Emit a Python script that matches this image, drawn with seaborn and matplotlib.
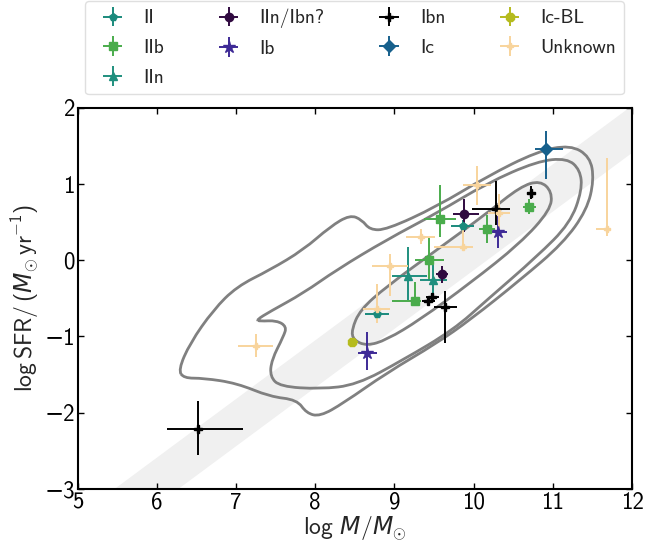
import numpy as np
import matplotlib
matplotlib.use("Agg")
import matplotlib.pyplot as plt
from matplotlib.path import Path
from matplotlib.patches import PathPatch
import seaborn as sns

# ---- host-galaxy measurements (log M, log SFR, asymmetric errors) ----
ii_m = [8.78, 9.86]
ii_sfr = [-0.707, 0.456]
ii_xerr = [[0.15, 0.15], [0.15, 0.15]]
ii_yerr = [[0.06, 0.07], [0.06, 0.07]]

iib_m = [9.26, 9.44, 9.58, 10.17, 10.705]
iib_sfr = [-0.528, 0.005, 0.54, 0.416, 0.705]
iib_xerr = [[0.29, 0.18, 0.20, 0.10, 0.08], [0.08, 0.18, 0.20, 0.10, 0.08]]
iib_yerr = [[0.06, 0.28, 0.24, 0.19, 0.10], [0.24, 0.29, 0.45, 0.18, 0.10]]

iin_m = [9.17, 9.49]
iin_sfr = [-0.205, -0.257]
iin_xerr = [[0.20, 0.17], [0.24, 0.17]]
iin_yerr = [[0.31, 0.22], [0.38, 0.20]]

iinibn_m = [9.88, 9.60]
iinibn_sfr = [0.605, -0.183]
iinibn_xerr = [[0.14, 0.08], [0.19, 0.08]]
iinibn_yerr = [[0.24, 0.11], [0.20, 0.11]]

ib_m = [8.66, 10.305]
ib_sfr = [-1.22, 0.377]
ib_xerr = [[0.12, 0.12], [0.12, 0.12]]
ib_yerr = [[0.22, 0.22], [0.28, 0.20]]

ibn_m = [6.525, 9.43, 9.48, 9.645, 10.28, 10.72]
ibn_sfr = [-2.213, -0.533, -0.476, -0.607, 0.675, 0.889]
ibn_xerr = [[0.39, 0.08, 0.08, 0.145, 0.30, 0.05], [0.56, 0.08, 0.08, 0.145, 0.18, 0.05]]
ibn_yerr = [[0.34, 0.05, 0.05, 0.48, 0.21, 0.08], [0.36, 0.05, 0.05, 0.21, 0.36, 0.08]]

ic_m = [10.91]
ic_sfr = [1.462]
ic_xerr = [[0.14], [0.22]]
ic_yerr = [[0.40], [0.23]]

icbl_m = [8.46]
icbl_sfr = [-1.075]
icbl_xerr = [[0.05], [0.08]]
icbl_yerr = [[0.02], [0.02]]

unk_m = [7.25, 8.78, 8.946, 9.33, 9.86, 10.04, 10.325, 11.68]
unk_sfr = [-1.12, -0.638, -0.073, 0.31, 0.18, 0.99, 0.618, 0.412]
unk_xerr = [[0.22, 0.17, 0.23, 0.18, 0.36, 0.18, 0.14, 0.13],
            [0.22, 0.17, 0.23, 0.18, 0.13, 0.18, 0.14, 0.04]]
unk_yerr = [[0.15, 0.18, 0.40, 0.10, 0.05, 0.27, 0.23, 0.10],
            [0.15, 0.33, 0.15, 0.10, 0.30, 0.25, 0.25, 0.93]]

# ---- field-galaxy density contours ----
outer_m = [6.273, 6.42, 6.715, 7.01, 7.43, 7.85, 8.19, 8.44, 8.59, 8.69, 8.90, 9.535,
           10.17, 10.80, 11.22, 11.47, 11.52, 11.43, 11.13, 10.59, 9.956, 9.535, 8.90,
           8.356, 8.06, 7.89, 7.77, 7.43, 7.01, 6.59, 6.34]
outer_sfr = [-1.438, -1.088, -0.651, -0.345, -0.126, 0.136, 0.442, 0.596, 0.53, 0.40, 0.40,
             0.705, 1.10, 1.427, 1.514, 1.36, 1.055, 0.66, 0.224, -0.257, -0.782, -1.088,
             -1.48, -1.875, -2.05, -2.006, -1.83, -1.79, -1.613, -1.547, -1.547]

middle_m = [7.26, 7.43, 7.85, 8.27, 8.90, 9.535, 10.17, 10.80, 11.18, 11.345, 11.37, 11.22,
            10.80, 10.17, 9.745, 9.11, 8.525, 8.06, 7.557, 7.43, 7.45, 7.60, 7.64, 7.515,
            7.30]
middle_sfr = [-0.782, -0.673, -0.432, -0.126, 0.268, 0.618, 1.012, 1.30, 1.34, 1.186, 0.924,
              0.487, 0.049, -0.52, -0.913, -1.307, -1.635, -1.69, -1.657, -1.526, -1.307,
              -1.00, -0.87, -0.79, -0.80]

inner_m = [8.46, 8.567, 8.90, 9.535, 10.17, 10.59, 10.84, 10.99, 10.97, 10.59, 9.956, 9.32,
           8.90, 8.65, 8.48]
inner_sfr = [-0.913, -0.651, -0.345, 0.136, 0.618, 0.967, 1.046, 0.90, 0.66, 0.224, -0.30,
             -0.782, -1.045, -1.124, -1.045]

# star-forming main sequence band
ms_slope = 0.77
ms_intercept = -7.51
ms_halfwidth = 0.31

sns.set_theme(style="ticks")
plt.rcParams["font.family"] = ["cmss10", "DejaVu Sans"]
plt.rcParams["mathtext.fontset"] = "custom"
plt.rcParams["mathtext.rm"] = "cmss10"
plt.rcParams["mathtext.sf"] = "cmss10"
plt.rcParams["mathtext.it"] = "DejaVu Sans:italic"
plt.rcParams["axes.unicode_minus"] = True


def closed_contour(xv, yv):
    # closed smooth path: quadratic Bezier through mid-points of the traced vertices
    pts = np.column_stack([xv, yv])
    nxt = np.roll(pts, -1, axis=0)
    mids = (pts + nxt) / 2
    verts = [mids[-1]]
    codes = [Path.MOVETO]
    for i in range(len(pts)):
        verts += [pts[i], mids[i]]
        codes += [Path.CURVE3, Path.CURVE3]
    return Path(verts, codes)


fig = plt.figure(figsize=(6.57, 5.42), dpi=100)
ax = fig.add_axes([0.118, 0.098, 0.844, 0.703])

xs = np.array([5, 12])
ax.fill_between(xs, ms_slope * xs + ms_intercept - ms_halfwidth,
                ms_slope * xs + ms_intercept + ms_halfwidth,
                color="#f0f0f0", lw=0, zorder=0)

for cm, cs in [(outer_m, outer_sfr), (middle_m, middle_sfr), (inner_m, inner_sfr)]:
    ax.add_patch(PathPatch(closed_contour(cm, cs), fill=False, edgecolor="gray",
                           lw=2, zorder=1))

groups = [
    ("II", ii_m, ii_sfr, ii_xerr, ii_yerr, "#1a8a7c", "p", 6),
    ("IIb", iib_m, iib_sfr, iib_xerr, iib_yerr, "#4aac4c", "s", 6),
    ("IIn", iin_m, iin_sfr, iin_xerr, iin_yerr, "#1f8f7e", "^", 6),
    ("IIn/Ibn?", iinibn_m, iinibn_sfr, iinibn_xerr, iinibn_yerr, "#300a40", "o", 6),
    ("Ib", ib_m, ib_sfr, ib_xerr, ib_yerr, "#3e2a96", "*", 9),
    ("Ibn", ibn_m, ibn_sfr, ibn_xerr, ibn_yerr, "black", "P", 6),
    ("Ic", ic_m, ic_sfr, ic_xerr, ic_yerr, "#17608c", "D", 6),
    ("Ic-BL", icbl_m, icbl_sfr, icbl_xerr, icbl_yerr, "#b5bb1e", "8", 6),
    ("Unknown", unk_m, unk_sfr, unk_xerr, unk_yerr, "#f8d49c", "P", 4),
]
for label, m, s, xe, ye, col, mk, ms in groups:
    ax.errorbar(m, s, xerr=np.array(xe), yerr=np.array(ye), fmt=mk, color=col,
                ms=ms, lw=1.4, capsize=0, label=label, zorder=3)

ax.set_xlim(5, 12)
ax.set_ylim(-3, 2)
ax.set_xticks(range(5, 13))
ax.set_yticks(range(-3, 3))
ax.tick_params(direction="in", top=True, right=True, length=4, width=1, pad=2,
               labelsize=16.5, colors="black")
for sp in ax.spines.values():
    sp.set_linewidth(1.5)
    sp.set_color("black")
ax.set_xlabel(r"$\log\, M / M_{\odot}$", fontsize=17, labelpad=0)
ax.set_ylabel(r"$\log {\rm SFR} /\, (M_{\odot}\,{\rm yr}^{-1})$", fontsize=17, labelpad=2)

ax.legend(loc="lower center", bbox_to_anchor=(0.5, 1.025), ncol=4, fontsize=14,
          frameon=True, fancybox=True, edgecolor="#d8d8d8", columnspacing=2.3,
          handletextpad=0.6, labelspacing=0.6, borderaxespad=0.2)

fig.savefig("out.png", dpi=100)
